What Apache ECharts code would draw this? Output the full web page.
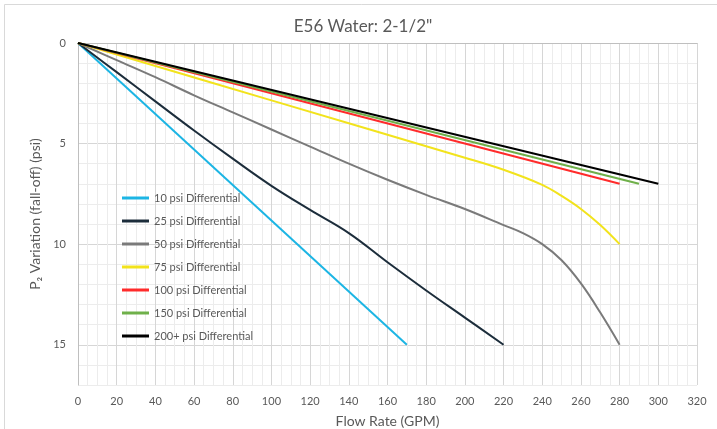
<!DOCTYPE html>
<html>
<head>
<meta charset="utf-8">
<script src="https://cdn.jsdelivr.net/npm/echarts@6/dist/echarts.min.js"></script>
<style>html,body{margin:0;padding:0;background:#fff}#c{width:717px;height:429px}</style>
</head>
<body>
<div id="c"></div>
<script>
// ---- data ----
const seriesNames = ['10 psi Differential','25 psi Differential','50 psi Differential','75 psi Differential','100 psi Differential','150 psi Differential','200+ psi Differential'];
const flow10 = [0, 170];
const drop10 = [0, 15];
const flow25 = [0, 20, 40, 60, 80, 100, 120, 140, 160, 180, 200, 220];
const drop25 = [0, 1.45, 2.9, 4.35, 5.75, 7.1, 8.3, 9.45, 10.9, 12.3, 13.65, 15];
const flow50 = [0, 20, 40, 60, 80, 100, 120, 140, 160, 180, 200, 220, 230, 240, 250, 260, 270, 280];
const drop50 = [0, 0.85, 1.7, 2.6, 3.45, 4.3, 5.15, 6.0, 6.8, 7.55, 8.25, 9.05, 9.45, 10.0, 10.8, 11.95, 13.4, 15];
const flow75 = [0, 100, 200, 220, 240, 250, 260, 270, 280];
const drop75 = [0, 2.85, 5.7, 6.3, 7.05, 7.6, 8.25, 9.05, 10];
const flow100 = [0, 280];
const drop100 = [0, 7];
const flow150 = [0, 290];
const drop150 = [0, 7];
const flow200 = [0, 300];
const drop200 = [0, 7];
const xTickLabels = [0,20,40,60,80,100,120,140,160,180,200,220,240,260,280,300,320];
const yTickLabels = [0,5,10,15];

const zip = (xs, ys) => xs.map((x, i) => [x, ys[i]]);
const flows = [flow10, flow25, flow50, flow75, flow100, flow150, flow200];
const drops = [drop10, drop25, drop50, drop75, drop100, drop150, drop200];
const colors = ['#1cb5e4','#1c2d3b','#7a7a7a','#f2e31c','#ff2b2b','#6fb04a','#000000'];
const smooths = [false, 0.4, 0.4, 0.4, false, false, false];

const chart = echarts.init(document.getElementById('c'));
const txt = '#595959';
const font = 'Lato, "Open Sans", sans-serif';
chart.setOption({
  animation: false,
  textStyle: {fontFamily: font},
  graphic: [
    {type: 'rect', shape: {x: 4.5, y: 4.5, width: 760, height: 460}, style: {fill: 'none', stroke: '#d9d9d9', lineWidth: 1}, silent: true},
    {type: 'text', x: 363, y: 27, style: {text: 'E56 Water: 2-1/2"', fill: txt, font: '17px ' + font, textAlign: 'center', textVerticalAlign: 'middle'}}
  ],
  grid: {left: 78, right: 20, top: 43, bottom: 44, containLabel: false, outerBoundsMode: 'none'},
  legend: {
    orient: 'vertical', left: 117, top: 186,
    icon: 'rect', itemWidth: 27, itemHeight: 3, itemGap: 9,
    textStyle: {color: txt, fontSize: 11, lineHeight: 14, fontFamily: font},
    data: seriesNames
  },
  xAxis: {
    type: 'value', min: 0, max: 320, interval: 5,
    name: 'Flow Rate (GPM)', nameLocation: 'middle', nameGap: 29,
    nameTextStyle: {color: txt, fontSize: 14, fontFamily: font},
    axisLine: {lineStyle: {color: '#bfbfbf'}},
    axisTick: {show: false},
    axisLabel: {color: txt, fontSize: 11, margin: 11, fontFamily: font,
      formatter: v => xTickLabels.indexOf(v) >= 0 ? String(v) : ''},
    splitLine: {show: true, lineStyle: {color: ['#d6d6d6','#ececec','#ececec','#ececec'], width: 1}}
  },
  yAxis: {
    type: 'value', inverse: true, min: 0, max: 17, interval: 1,
    name: 'P\u2082 Variation (fall-off) (psi)', nameLocation: 'middle', nameGap: 25,
    nameTextStyle: {color: txt, fontSize: 14, fontFamily: font},
    axisLine: {show: true, lineStyle: {color: '#bfbfbf'}},
    axisTick: {show: false},
    axisLabel: {color: txt, fontSize: 11, margin: 12, fontFamily: font,
      formatter: v => yTickLabels.indexOf(v) >= 0 ? String(v) : ''},
    splitLine: {show: true, lineStyle: {color: ['#d6d6d6','#ececec','#ececec','#ececec','#ececec'], width: 1}}
  },
  series: seriesNames.map((n, i) => ({
    name: n, type: 'line', data: zip(flows[i], drops[i]),
    showSymbol: false, symbol: 'none', smooth: smooths[i],
    lineStyle: {color: colors[i], width: 2},
    itemStyle: {color: colors[i]}
  }))
});
</script>
</body>
</html>
